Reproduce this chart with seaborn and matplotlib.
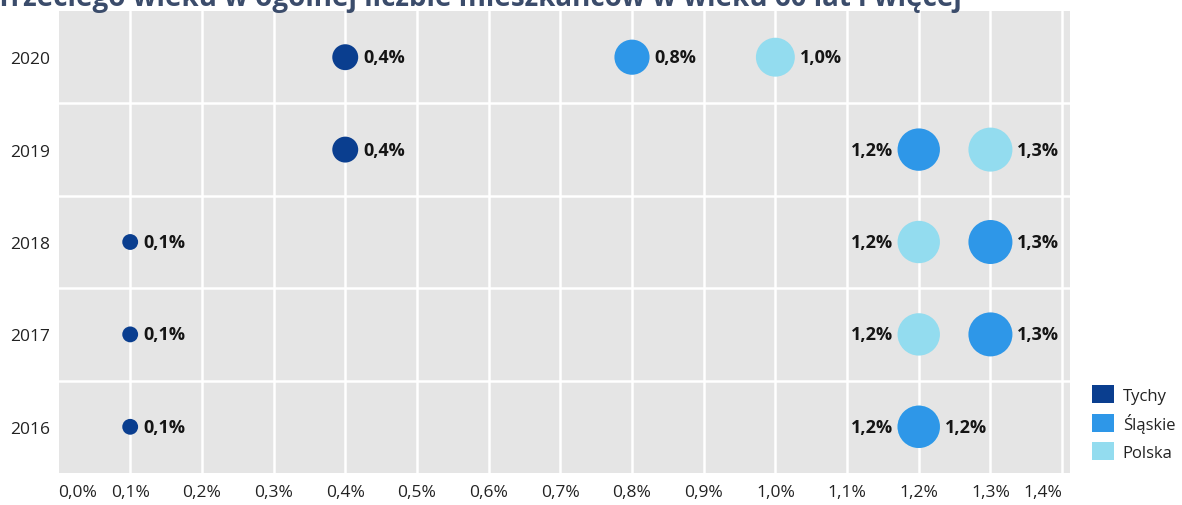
import numpy as np
import pandas as pd
import matplotlib
matplotlib.use("Agg")
import matplotlib.pyplot as plt
from matplotlib.patches import Patch
from matplotlib.ticker import FixedLocator
import seaborn as sns

# Share of third-age university participants among residents aged 60+ (%)
years = ["2020", "2019", "2018", "2017", "2016"]
tychy = [0.4, 0.4, 0.1, 0.1, 0.1]
slaskie = [0.8, 1.2, 1.3, 1.3, 1.2]
polska = [1.0, 1.3, 1.2, 1.2, 1.2]
series_names = ["Tychy", "Śląskie", "Polska"]
x_ticks = [0.0, 0.1, 0.2, 0.3, 0.4, 0.5, 0.6, 0.7, 0.8, 0.9, 1.0, 1.1, 1.2, 1.3, 1.4]
title = "Trzeciego wieku w ogólnej liczbie mieszkańców w wieku 60 lat i więcej"

colors = {"Tychy": "#0a3e8f", "Śląskie": "#2e97e8", "Polska": "#93dcef"}
size_range = (130, 1004)

sns.set_theme(style="white")
plt.rcParams["font.family"] = ["Open Sans", "DejaVu Sans"]

# long table; Polska rows before Śląskie so Śląskie sits on top when equal
rows = []
for name, vals in [("Tychy", tychy), ("Polska", polska), ("Śląskie", slaskie)]:
    for y, v in zip(years, vals):
        rows.append({"rok": y, "seria": name, "wartosc": v})
df = pd.DataFrame(rows)
df["ypos"] = df["rok"].map({y: i for i, y in enumerate(years)})

fig = plt.figure(figsize=(11.82, 5.06), dpi=100)
W, H = 1182, 506
ax = fig.add_axes([58.5 / W, 1 - 474 / H, (1070 - 58.5) / W, (474 - 12) / H])
ax.set_facecolor("#e5e5e5")

sns.scatterplot(data=df, x="wartosc", y="ypos", hue="seria", palette=colors,
                size="wartosc", sizes=size_range, linewidth=0, alpha=1,
                legend=False, ax=ax, zorder=3)

ax.set_xlim(0.0, 1.411)
ax.set_ylim(len(years) - 0.5, -0.5)

ax.xaxis.set_major_locator(FixedLocator(x_ticks))
ax.set_xticklabels([f"{t:.1f}%".replace(".", ",") for t in x_ticks])
tl = ax.get_xticklabels()
tl[0].set_horizontalalignment("left")
tl[-1].set_horizontalalignment("right")
ax.set_yticks(range(len(years)))
ax.set_yticklabels(years)
ax.yaxis.set_minor_locator(FixedLocator(np.arange(0.5, len(years) - 1, 1.0)))
ax.tick_params(which="both", length=0, labelsize=12.5, colors="#222222")
ax.tick_params(axis="x", pad=8)
ax.tick_params(axis="y", pad=6)
ax.grid(which="major", axis="x", color="white", linewidth=1.8, zorder=1)
ax.grid(which="minor", axis="y", color="white", linewidth=1.8, zorder=1)
ax.grid(which="major", axis="y", visible=False)
ax.get_xgridlines()[0].set_visible(False)
ax.set_axisbelow(True)
for s in ax.spines.values():
    s.set_visible(False)
ax.set_xlabel("")
ax.set_ylabel("")

# value labels, offset by each marker's radius
vmin, vmax = df["wartosc"].min(), df["wartosc"].max()

def radius_pt(v):
    area = size_range[0] + (v - vmin) / (vmax - vmin) * (size_range[1] - size_range[0])
    return np.sqrt(area) / 2

def label(v, yi, side):
    r = radius_pt(v) + 3.5
    ax.annotate(f"{v:.1f}%".replace(".", ","), (v, yi),
                xytext=(r if side == "right" else -r, 0), textcoords="offset points",
                ha="left" if side == "right" else "right", va="center",
                fontsize=13, fontweight="bold", color="#151515", zorder=4)

for i, y in enumerate(years):
    label(tychy[i], i, "right")
    s, p = slaskie[i], polska[i]
    if abs(s - p) <= 0.1 + 1e-9:
        if s <= p:
            label(s, i, "left")
            label(p, i, "right")
        else:
            label(p, i, "left")
            label(s, i, "right")
    else:
        label(s, i, "right")
        label(p, i, "right")

handles = [Patch(facecolor=colors[n], edgecolor="none", label=n) for n in series_names]
fig.legend(handles=handles, loc="upper left",
           bbox_to_anchor=(1092 / W, 1 - 386 / H), bbox_transform=fig.transFigure,
           frameon=False, fontsize=12, handlelength=1.3, handleheight=1.3,
           handletextpad=0.55, labelspacing=0.55, borderpad=0, borderaxespad=0,
           labelcolor="#222222")

fig.text(-4 / W, 1 - 6 / H, title, ha="left", va="baseline",
         fontsize=20, fontweight="bold", color="#3b4c6b")

fig.savefig("out.png", dpi=100)
